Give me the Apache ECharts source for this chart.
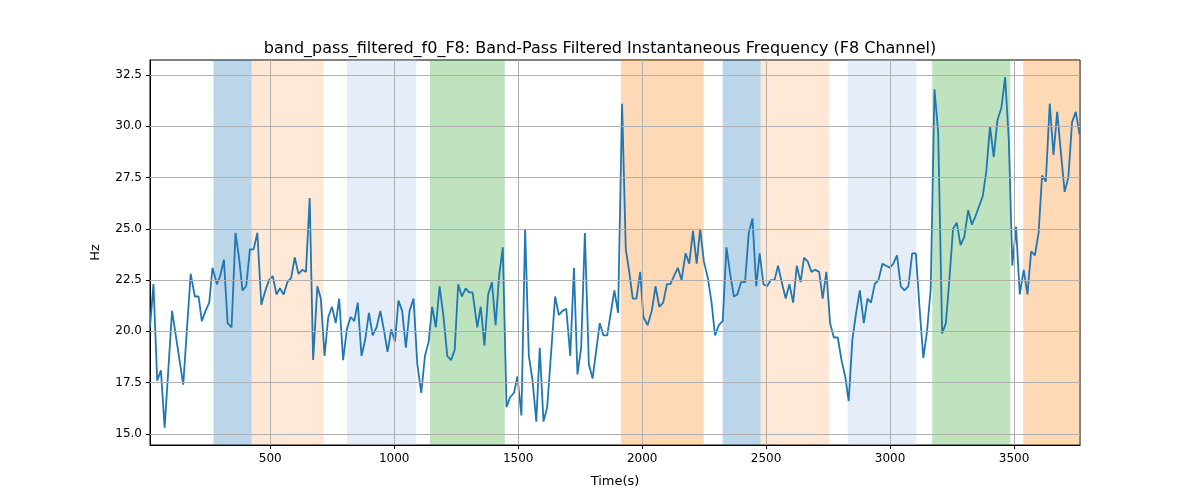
<!DOCTYPE html>
<html>
<head>
<meta charset="utf-8">
<script src="https://cdn.jsdelivr.net/npm/echarts@6/dist/echarts.min.js"></script>
<style>body{margin:0;background:#fff}#chart{width:1200px;height:500px}</style>
</head>
<body>
<div id="chart"></div>
<script>
// Sample times (s) and filtered frequency (Hz)
const times = [15,29,44,59,74,104,149,179,196,211,224,239,254,267,285,298,313,328,344,360,375,388,403,418,433,448,464,478,495,510,525,539,554,569,584,599,614,629,644,659,673,690,704,719,734,749,764,778,794,809,824,839,853,868,883,898,913,929,944,958,973,988,1003,1017,1032,1047,1062,1078,1093,1109,1124,1139,1153,1168,1183,1198,1214,1229,1244,1258,1273,1288,1302,1316,1335,1349,1364,1379,1394,1409,1423,1438,1453,1468,1483,1497,1513,1528,1543,1558,1573,1587,1602,1617,1649,1664,1679,1694,1710,1725,1739,1754,1769,1785,1800,1829,1844,1859,1888,1903,1919,1934,1948,1962,1977,1992,2005,2022,2039,2054,2069,2085,2100,2114,2129,2144,2159,2175,2190,2205,2220,2234,2249,2265,2280,2294,2309,2325,2340,2355,2370,2384,2399,2415,2430,2445,2460,2474,2489,2504,2519,2534,2548,2565,2579,2594,2609,2624,2639,2653,2668,2683,2698,2714,2728,2743,2758,2773,2789,2804,2819,2833,2848,2863,2878,2894,2909,2923,2938,2953,2969,2984,2999,3013,3028,3043,3058,3074,3089,3104,3118,3134,3149,3164,3179,3194,3210,3225,3239,3254,3269,3284,3299,3315,3330,3344,3359,3374,3388,3403,3418,3433,3449,3464,3479,3493,3508,3523,3539,3554,3569,3584,3599,3613,3628,3644,3659,3674,3689,3704,3719,3734,3749,3764];
const freq = [20.2,22.3,17.6,18.1,15.3,21.0,17.4,22.8,21.7,21.7,20.5,21.0,21.4,23.1,22.3,22.7,23.5,20.4,20.2,24.8,23.5,22.0,22.2,24.0,24.0,24.8,21.3,21.9,22.5,22.7,21.8,22.1,21.8,22.4,22.6,23.6,22.8,23.0,22.9,26.5,18.6,22.2,21.6,18.8,20.7,21.2,20.4,21.6,18.6,20.1,20.7,20.5,21.4,18.8,19.6,20.9,19.8,20.2,21.0,20.1,19.0,20.1,19.5,21.5,21.0,19.2,21.0,21.6,18.4,17.0,18.8,19.5,21.2,20.2,22.2,20.8,18.8,18.6,19.1,22.3,21.7,22.1,21.9,21.9,20.2,21.2,19.3,21.8,22.4,20.3,22.7,24.1,16.3,16.8,17.0,17.8,15.9,25.0,18.8,17.6,15.6,19.2,15.6,16.3,21.7,20.8,21.0,21.1,18.8,23.1,17.9,19.2,24.8,18.4,17.7,20.4,19.8,19.8,22.0,20.9,31.1,24.0,22.9,21.6,21.6,22.9,20.7,20.3,21.0,22.2,21.2,21.4,22.3,22.3,22.7,23.1,22.5,23.8,23.3,24.9,23.3,25.0,23.4,22.6,21.4,19.8,20.3,20.5,24.1,22.8,21.7,21.8,22.4,22.4,24.8,25.5,22.2,23.8,22.3,22.2,22.5,22.5,23.2,22.3,21.6,22.3,21.4,23.2,22.4,23.6,23.4,22.9,23.0,22.9,21.6,22.9,20.4,19.7,19.7,18.6,17.8,16.6,19.6,20.9,22.0,20.4,21.6,21.4,22.3,22.5,23.3,23.2,23.1,23.3,23.7,22.2,22.0,22.2,23.8,23.8,21.3,18.7,20.0,22.1,31.8,29.7,19.9,20.4,22.5,25.0,25.3,24.2,24.6,25.9,25.2,25.6,26.1,26.6,27.8,30.0,28.5,30.3,30.9,32.4,29.3,23.2,25.1,21.8,23.0,21.8,23.9,23.7,24.8,27.6,27.3,31.1,28.6,30.7,28.7,26.8,27.5,30.2,30.7,29.6];

// Shaded intervals: [start, end, colour]
const bandStarts = [271, 425, 810, 1144, 1914, 2325, 2478, 2829, 3170, 3537];
const bandEnds   = [425, 715, 1088, 1446, 2248, 2478, 2756, 3106, 3485, 3766];
const bandColors = ['rgba(31,119,180,0.3)','rgba(255,127,14,0.17)','rgba(174,199,232,0.32)','rgba(44,160,44,0.3)','rgba(255,127,14,0.3)',
                    'rgba(31,119,180,0.3)','rgba(255,127,14,0.17)','rgba(174,199,232,0.32)','rgba(44,160,44,0.3)','rgba(255,127,14,0.3)'];

const xTicks = [500, 1000, 1500, 2000, 2500, 3000, 3500];
const yTicks = [15, 17.5, 20, 22.5, 25, 27.5, 30, 32.5];

const X_MIN = 15, X_MAX = 3766, Y_MIN = 14.46, Y_MAX = 33.23;
const font = 'DejaVu Sans';

let gridLines = xTicks.map(v => ({ xAxis: v })).concat(yTicks.map(v => ({ yAxis: v })));

let option = {
    animation: false,
    title: {
        text: 'band_pass_filtered_f0_F8: Band-Pass Filtered Instantaneous Frequency (F8 Channel)',
        left: 'center', top: 36,
        textStyle: { fontFamily: font, fontSize: 16, fontWeight: 'normal', color: '#000' }
    },
    grid: { left: 150, right: 120, top: 60, bottom: 55, show: true, borderColor: '#000', borderWidth: 1 },
    xAxis: {
        type: 'value', min: X_MIN, max: X_MAX,
        name: 'Time(s)', nameLocation: 'middle', nameGap: 30,
        nameTextStyle: { fontFamily: font, fontSize: 13, color: '#000' },
        axisLine: { lineStyle: { color: '#000' } },
        axisTick: { customValues: xTicks, length: 4, lineStyle: { color: '#000' } },
        axisLabel: { customValues: xTicks, fontFamily: font, fontSize: 12, color: '#000', formatter: v => String(v) },
        splitLine: { show: false }
    },
    yAxis: {
        type: 'value', min: Y_MIN, max: Y_MAX,
        name: 'Hz', nameLocation: 'middle', nameGap: 48,
        nameTextStyle: { fontFamily: font, fontSize: 13, color: '#000' },
        axisLine: { show: true, lineStyle: { color: '#000' } },
        axisTick: { show: true, customValues: yTicks, length: 4, lineStyle: { color: '#000' } },
        axisLabel: { customValues: yTicks, fontFamily: font, fontSize: 12, color: '#000', formatter: v => v.toFixed(1) },
        splitLine: { show: false }
    },
    series: [{
        type: 'line',
        data: times.map((t, i) => [t, freq[i]]),
        showSymbol: false,
        lineStyle: { color: '#1f77b4', width: 1.8 },
        markArea: {
            silent: true,
            data: bandStarts.map((s, i) => [
                { xAxis: s, itemStyle: { color: bandColors[i] } },
                { xAxis: bandEnds[i] }
            ])
        },
        markLine: {
            silent: true, symbol: 'none', label: { show: false },
            lineStyle: { color: '#b0b0b0', width: 1, type: 'solid' },
            data: gridLines
        }
    }]
};

let chart = echarts.init(document.getElementById('chart'));
chart.setOption(option);
</script>
</body>
</html>
